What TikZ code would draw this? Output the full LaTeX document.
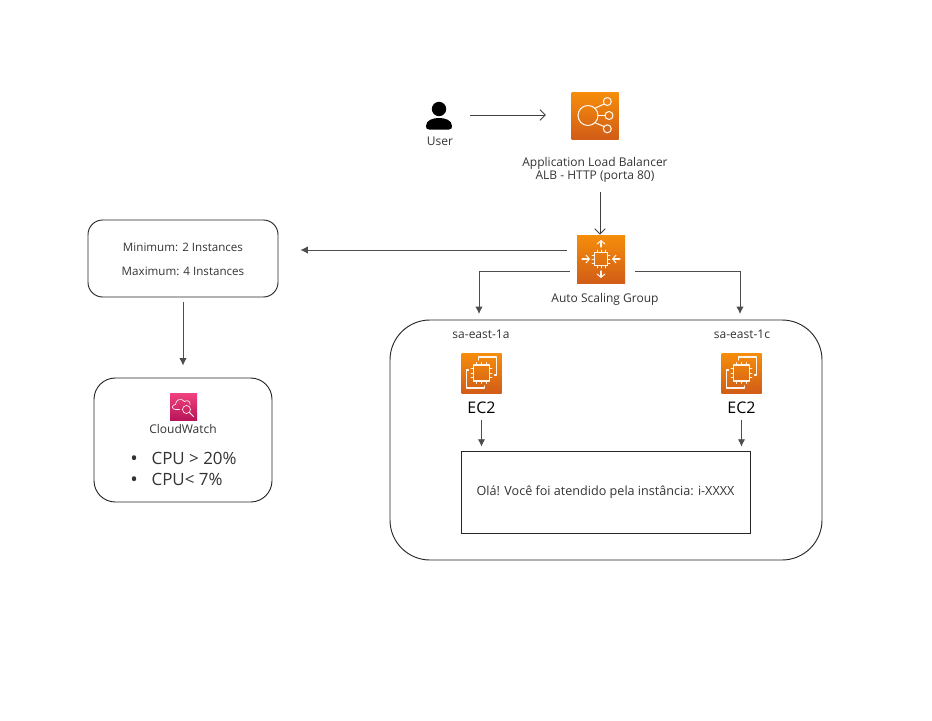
\documentclass[tikz,border=0pt]{standalone}
\usepackage{fontspec}
\setmainfont{Open Sans}
\usetikzlibrary{arrows, arrows.meta, positioning}
\definecolor{linegray}{HTML}{4D4D4D}
\definecolor{textgray}{HTML}{333333}
\tikzset{
	awsicon/.style={draw=none, inner sep=0pt, minimum size=#1*0.75pt, top color=awstop, bottom color=awsbottom},
	label/.style={text=textgray, align=center, inner sep=0pt, font=\fontsize{9pt}{9.8pt}\selectfont},
	box/.style={draw=black!85, line width=0.7pt, inner sep=0pt},
	flow/.style={draw=linegray, line width=0.7pt, -{Latex[length=5.5pt,width=5.5pt]}},
	openflow/.style={draw=black!75, line width=0.7pt, -{Straight Barb[length=4pt,width=8pt]}},
	glyph/.style={draw=white!92!orange, line width=0.8pt, line cap=round, line join=round},
}
\definecolor{awstop}{HTML}{F68D0B}
\definecolor{awsbottom}{HTML}{D15D17}
\definecolor{cwtop}{HTML}{F0427F}
\definecolor{cwbottom}{HTML}{B9155A}
\newcommand{\chipglyph}[1]{
	\draw[glyph] (-#1,-#1) rectangle (#1,#1);
	\foreach \t in {-0.6,0,0.6} {
		\draw[glyph, line width=0.6pt] (\t*#1,-#1) -- (\t*#1,-#1-2.5);
		\draw[glyph, line width=0.6pt] (\t*#1,#1) -- (\t*#1,#1+2.5);
		\draw[glyph, line width=0.6pt] (-#1,\t*#1) -- (-#1-2.5,\t*#1);
		\draw[glyph, line width=0.6pt] (#1,\t*#1) -- (#1+2.5,\t*#1);
	}
}
\newcommand{\ecglyph}[1]{
	\begin{scope}[shift={(#1.center)}]
		\chipglyph{8}
		\draw[glyph] (-3,-13) -- (-3,-16) -- (15,-16) -- (15,2) -- (13,2);
		\draw[glyph] (-13,-3) -- (-15,-3) -- (-15,15) -- (3,15) -- (3,13);
	\end{scope}
}
\newcommand{\cpubullet}{\makebox[16pt][l]{\raisebox{-0.8pt}{\fontsize{15pt}{15pt}\selectfont\textbullet}}}

\begin{document}
\begin{tikzpicture}[x=0.75pt, y=-0.75pt]
	\useasboundingbox (0,0) rectangle (932,721);

	% user and load balancer
	\node[minimum size=26*0.75pt, inner sep=0pt] (user) at (439,115) {};
	\fill[black] (439,109) circle (7.2);
	\fill[black] (429,129.5) .. controls (426.5,129.5) and (426,128) .. (426,126) .. controls (426,120) and (433,118) .. (439,118) .. controls (445,118) and (452,120) .. (452,126) .. controls (452,128) and (451.5,129.5) .. (449,129.5) -- cycle;
	\node[label] (user-label) at (440,141) {User};
	\node[awsicon=47] (alb) at (595,115.5) {};
	\begin{scope}[shift={(alb.center)}]
		\draw[glyph] (-7,0) circle (10);
		\foreach \a/\b in {12.3/-14, 14/0, 12.3/13.3} {
			\draw[glyph] (\a,\b) circle (4);
		}
		\draw[glyph] (-0.5,-7) -- (9,-11.5);
		\draw[glyph] (3,0) -- (10,0);
		\draw[glyph] (-0.5,7) -- (9,11);
	\end{scope}
	\node[label] (alb-label) at (595,169.5) {Application Load Balancer\\ALB - HTTP (porta 80)};

	% auto scaling group
	\node[awsicon=48] (asg) at (601,259) {};
	\begin{scope}[shift={(asg.center)}]
		\chipglyph{6.5}
		\draw[glyph, -{Straight Barb[length=2.5pt,width=6pt]}] (0,-12) -- (0,-19);
		\draw[glyph, -{Straight Barb[length=2.5pt,width=6pt]}] (0,12) -- (0,19);
		\draw[glyph, -{Straight Barb[length=2.5pt,width=6pt]}] (-19,0) -- (-11,0);
		\draw[glyph, -{Straight Barb[length=2.5pt,width=6pt]}] (19,0) -- (11,0);
	\end{scope}
	\node[label] (asg-label) at (605,299) {Auto Scaling Group};

	% limits and alarms
	\node[box, rounded corners=11pt, minimum width=190*0.75pt, minimum height=77*0.75pt] (limits) at (183,258.5) {};
	\node[label, font=\fontsize{8.7pt}{18pt}\selectfont] (limits-label) at (183,259) {Minimum: 2 Instances\\Maximum: 4 Instances};
	\node[box, rounded corners=16pt, minimum width=178*0.75pt, minimum height=124*0.75pt] (alarms) at (183,440) {};
	\node[awsicon=27, top color=cwtop, bottom color=cwbottom] (cw) at (183.5,406.5) {};
	\begin{scope}[shift={(cw.center)}]
		\draw[glyph, line width=0.5pt] (-4,3) -- (-8,3) .. controls (-12,3) and (-12,-2) .. (-8,-2) .. controls (-8,-7) and (-2,-9) .. (1,-5) .. controls (4,-7) and (7,-5) .. (6.5,-2);
		\draw[glyph, line width=0.5pt] (3,3) circle (4);
		\draw[glyph, line width=0.7pt] (6,6) -- (10,10);
	\end{scope}
	\node[label] (cw-label) at (183,429) {CloudWatch};
	\node[label, anchor=west, align=left, font=\fontsize{12.7pt}{15.75pt}\selectfont] (cpu-list) at (130,469.5) {\cpubullet CPU > 20\%\\\cpubullet CPU< 7\%};

	% availability zones
	\node[box, rounded corners=30pt, minimum width=432*0.75pt, minimum height=240*0.75pt] (zones) at (606,440) {};
	\node[label] (zone-a) at (481,334) {sa-east-1a};
	\node[label] (zone-c) at (742,334) {sa-east-1c};
	\node[awsicon=40] (ec2-a) at (481.5,373) {};
	\node[awsicon=40] (ec2-c) at (741.5,373) {};
	\ecglyph{ec2-a}
	\ecglyph{ec2-c}
	\node[label, text=black, font=\fontsize{12pt}{14pt}\selectfont] (ec2-a-label) at (481.5,408) {EC2};
	\node[label, text=black, font=\fontsize{12pt}{14pt}\selectfont] (ec2-c-label) at (741.5,408) {EC2};
	\node[box, line width=0.6pt, minimum width=289*0.75pt, minimum height=82*0.75pt] (response) at (605.5,492) {};
	\node[label, font=\fontsize{9.45pt}{10pt}\selectfont] (response-label) at (605.5,492) {Olá! Você foi atendido pela instância: i-XXXX};

	% connectors
	\coordinate (asg-left) at (479,271);
	\coordinate (asg-right) at (740,271);
	\coordinate (zones-a) at (479,314);
	\coordinate (zones-c) at (740,314);
	\path [openflow, shorten <=13.5pt, shorten >=19pt] (user) -- (user -| alb.west);
	\path [openflow] ([yshift=-7pt]alb-label.south -| asg.north) ++(-1,0) -- ([xshift=-0.75pt]asg.north);
	\path [flow] ([shift={(-7.5pt,6.75pt)}]asg.west) -- ([shift={(16.5pt,6.75pt)}]asg.west -| limits.east);
	\path [flow] (limits.south) ++(0,5) -- ([yshift=9pt]alarms.north);
	\path [draw=linegray, line width=0.7pt] (asg-left -| asg.west) ++(-7,0) -- (asg-left);
	\path [flow] (asg-left) -- (zones-a);
	\path [draw=linegray, line width=0.7pt] (asg-right -| asg.east) ++(10,0) -- (asg-right);
	\path [flow] (asg-right) -- (zones-c);
	\path [flow] ([yshift=-4.5pt]ec2-a-label.south) -- ([yshift=3pt]response.north -| ec2-a-label);
	\path [flow] ([yshift=-4.5pt]ec2-c-label.south) -- ([yshift=3pt]response.north -| ec2-c-label);
\end{tikzpicture}
\end{document}
